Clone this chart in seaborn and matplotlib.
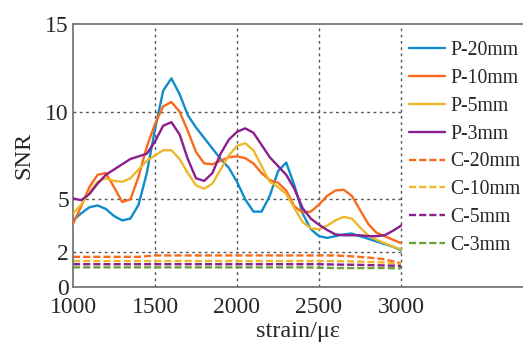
import numpy as np
import pandas as pd
import matplotlib
matplotlib.use("Agg")
import matplotlib.pyplot as plt
import seaborn as sns

# strain values (micro-strain)
strain = list(range(1000, 3001, 50))
strain_c = list(range(1000, 3001, 100))

p_20mm = [3.8, 4.2, 4.55, 4.65, 4.45, 4.05, 3.8, 3.9, 4.7, 6.5,
          9.0, 11.2, 11.9, 11.0, 9.8, 9.1, 8.5, 7.9, 7.3, 6.8,
          6.0, 5.0, 4.3, 4.3, 5.2, 6.6, 7.1, 5.8, 4.2, 3.3,
          2.9, 2.8, 2.9, 3.0, 3.05, 2.9, 2.75, 2.6, 2.45, 2.3, 2.1]
p_10mm = [3.6, 4.6, 5.7, 6.4, 6.5, 5.7, 4.85, 5.0, 6.3, 8.0,
          9.3, 10.3, 10.55, 10.0, 8.9, 7.7, 7.05, 7.0, 7.2, 7.4,
          7.45, 7.35, 7.05, 6.5, 6.1, 5.95, 5.5, 4.6, 4.25, 4.3,
          4.7, 5.2, 5.5, 5.55, 5.2, 4.4, 3.6, 3.1, 2.9, 2.7, 2.5]
p_5mm = [4.2, 4.7, 5.4, 6.0, 6.2, 6.05, 6.0, 6.2, 6.7, 7.2,
         7.5, 7.8, 7.8, 7.3, 6.5, 5.8, 5.6, 5.9, 6.7, 7.5,
         8.05, 8.2, 7.8, 6.9, 6.0, 5.7, 5.3, 4.5, 3.7, 3.35,
         3.3, 3.5, 3.8, 4.0, 3.9, 3.4, 2.95, 2.7, 2.5, 2.3, 2.15]
p_3mm = [5.05, 4.95, 5.3, 5.9, 6.4, 6.7, 7.0, 7.3, 7.45, 7.6,
         8.3, 9.2, 9.4, 8.7, 7.3, 6.2, 6.05, 6.5, 7.6, 8.4,
         8.85, 9.05, 8.8, 8.1, 7.4, 6.9, 6.4, 5.6, 4.5, 3.9,
         3.55, 3.25, 3.0, 2.95, 2.95, 2.95, 2.9, 2.9, 2.95, 3.2, 3.5]

c_20mm = [1.72, 1.72, 1.72, 1.72, 1.72, 1.8, 1.8, 1.8, 1.8, 1.8, 1.8,
          1.8, 1.8, 1.8, 1.8, 1.8, 1.8, 1.75, 1.68, 1.58, 1.35]
c_10mm = [1.48, 1.48, 1.48, 1.48, 1.48, 1.48, 1.48, 1.48, 1.48, 1.48, 1.48,
          1.48, 1.48, 1.48, 1.48, 1.48, 1.48, 1.46, 1.43, 1.4, 1.3]
c_5mm = [1.3, 1.3, 1.3, 1.3, 1.3, 1.3, 1.3, 1.3, 1.3, 1.3, 1.3,
         1.3, 1.3, 1.3, 1.3, 1.3, 1.28, 1.27, 1.25, 1.23, 1.2]
c_3mm = [1.12, 1.12, 1.12, 1.12, 1.12, 1.12, 1.12, 1.12, 1.12, 1.12, 1.12,
         1.12, 1.12, 1.12, 1.12, 1.1, 1.08, 1.08, 1.08, 1.08, 1.06]

labels = ['P-20mm', 'P-10mm', 'P-5mm', 'P-3mm', 'C-20mm', 'C-10mm', 'C-5mm', 'C-3mm']
colors = ['#0E8CCB', '#F96A1B', '#EDB92C', '#8B1E8D', '#F96A1B', '#EDB92C', '#8B1E8D', '#6FA03A']

y_ticks = [0, 2, 5, 10, 15]
x_ticks = [1000, 1500, 2000, 2500, 3000]

sns.set_style("white")
plt.rcParams['font.family'] = ['Liberation Serif', 'DejaVu Serif']

fig = plt.figure(figsize=(5.23, 3.45), dpi=100)
ax = fig.add_axes([73 / 523, 58 / 345, 450 / 523, 263 / 345])

# grid limited to the data range, like the original
for y in [2, 5, 10]:
    ax.plot([x_ticks[0], x_ticks[-1]], [y, y], color='#555555', lw=1.0,
            ls=(0, (2, 2.5)), zorder=1)
for x in x_ticks[1:]:
    ax.plot([x, x], [y_ticks[0], y_ticks[-1]], color='#555555', lw=1.0,
            ls=(0, (2, 2.5)), zorder=1)

series = [p_20mm, p_10mm, p_5mm, p_3mm, c_20mm, c_10mm, c_5mm, c_3mm]
for i, (vals, lab, col) in enumerate(zip(series, labels, colors)):
    xs = strain if i < 4 else strain_c
    df = pd.DataFrame({'strain': xs, 'SNR': vals})
    if i < 4:
        sns.lineplot(data=df, x='strain', y='SNR', ax=ax, color=col, lw=1.7,
                     label=lab, zorder=3)
    else:
        sns.lineplot(data=df, x='strain', y='SNR', ax=ax, color=col, lw=1.7,
                     label=lab, zorder=2)
        ax.lines[-1].set_dashes((3, 1.3))

ax.set_xlim(1000, 3744)
ax.set_ylim(0, 15)
ax.set_xticks(x_ticks)
ax.set_yticks(y_ticks)
ax.tick_params(length=0, labelsize=17)
ax.tick_params(axis='x', pad=7)
ax.tick_params(axis='y', pad=3)
ax.set_xlabel('strain/με', fontsize=17.5, labelpad=2)
ax.set_ylabel('SNR', fontsize=17.5, labelpad=8)

for side in ['left', 'bottom', 'top']:
    ax.spines[side].set_color('#777777')
    ax.spines[side].set_linewidth(1.3)
ax.spines['right'].set_visible(False)

ax.legend(loc='upper left', bbox_to_anchor=(409 / 523, 1 - 41 / 345),
          bbox_transform=fig.transFigure, frameon=False, fontsize=14.2,
          handlelength=1.85, handletextpad=0.25, labelspacing=0.45,
          borderaxespad=0, borderpad=0)

fig.savefig('out.png', dpi=100)
